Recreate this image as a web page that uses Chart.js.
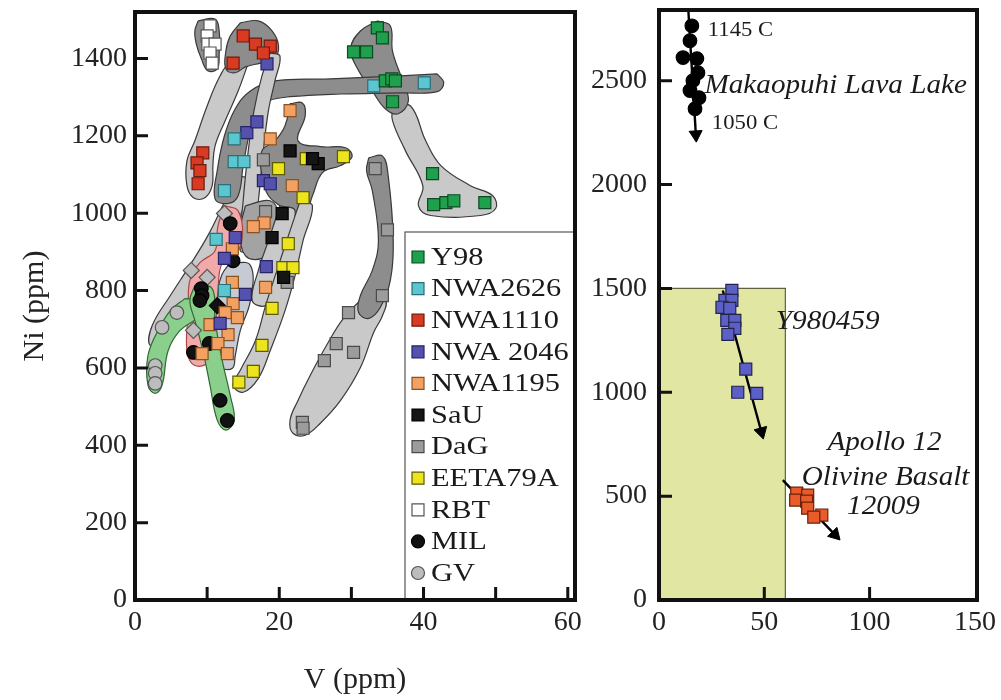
<!DOCTYPE html>
<html><head><meta charset="utf-8">
<script src="https://cdn.jsdelivr.net/npm/chart.js@4.4.1/dist/chart.umd.min.js"></script>
<style>
html,body{margin:0;padding:0;background:#fff;}
#wrap{position:relative;width:1001px;height:700px;overflow:hidden;}
#c1{position:absolute;left:0;top:0;}
#c2{position:absolute;left:590px;top:0;}
</style></head><body>
<div id="wrap"><canvas id="c1" width="590" height="700"></canvas><canvas id="c2" width="411" height="700"></canvas></div>
<script>
// ---------- LEFT PANEL DATA (V ppm, Ni ppm) ----------
const Y98 = [[33.6,1479],[34.3,1453],[30.3,1417],[32.1,1417],[34.7,1342],[35.6,1347],[36.1,1342],[35.7,1288],[41.25,1102],[41.4,1022],[43.1,1027],[44.2,1032],[48.5,1027]];
const NWA2626 = [[33.1,1329],[40.1,1337],[13.75,1192],[13.75,1133],[15.1,1133],[12.4,1058],[11.25,932],[12.4,800]];
const NWA1110 = [[15.0,1458],[16.7,1437],[18.75,1432],[17.8,1414],[13.6,1388],[9.4,1156],[8.6,1130],[9.0,1110],[8.75,1076]];
const NWA2046 = [[15.5,1208],[16.9,1236],[18.3,1386],[17.8,1084],[18.75,1076],[13.9,937],[12.4,883],[15.3,790],[18.2,862],[11.8,715]];
const NWA1195 = [[21.5,1265],[18.75,1192],[21.8,1071],[17.9,975],[16.4,965],[13.5,908],[13.5,821],[18.1,808],[13.6,766],[14.2,730],[10.4,712],[12.9,686],[12.5,743],[11.5,663],[9.3,637],[12.8,637]];
const SaU = [[21.5,1161],[25.4,1128],[24.6,1141],[20.4,999],[19.0,937],[20.6,834]];
const DaG = [[17.8,1138],[18.1,1004],[21.1,821],[33.3,1115],[35.0,957],[34.3,787],[29.6,743],[27.9,663],[30.3,640],[26.25,619],[23.2,459],[23.3,444]];
const EETA79A = [[19.9,1115],[23.75,1141],[28.9,1146],[23.3,1040],[21.25,921],[20.5,859],[21.9,859],[19.0,754],[17.6,658],[16.4,591],[14.4,563]];
const RBT = [[10.4,1484],[10.0,1458],[10.1,1437],[11.1,1437],[10.4,1414],[10.7,1388]];
const MIL = [[13.2,973],[13.6,877],[9.2,805],[9.3,787],[9.0,774],[11.4,761],[10.3,663],[8.1,640],[11.8,516],[12.8,464]];
const GV = [[12.4,999],[7.8,852],[10.0,834],[8.1,697],[3.75,705],[5.8,743],[2.8,606],[2.8,586],[2.8,560]];

// envelopes (field outlines, V/Ni coordinates)
const envRBT = [[8.75,1497],[11.1,1502],[11.67,1471],[11.67,1412],[11.4,1373],[10.1,1368],[9.2,1399],[8.5,1437],[8.3,1471]];
const envTubeA = [[15.7,1388],[14.3,1316],[12.5,1239],[11.1,1174],[10.8,1123],[10.7,1071],[9.7,1040],[8.1,1040],[7.2,1071],[7.2,1135],[8.3,1187],[10.0,1277],[11.8,1355],[13.2,1388]];
const envNWA1110 = [[14.6,1492],[17.1,1497],[19.0,1471],[19.9,1432],[19.3,1399],[17.4,1388],[15.3,1378],[13.9,1363],[12.6,1373],[12.6,1419],[13.2,1458]];
const envTubeB = [[18.75,1414],[20.1,1406],[19.4,1342],[18.5,1265],[17.8,1161],[17.1,1032],[16.25,916],[14.6,903],[15.0,1032],[15.7,1161],[16.5,1265],[17.6,1355]];
const envBand = [[41.9,1360],[42.8,1337],[41.9,1314],[36.8,1311],[28.5,1308],[21.5,1301],[18.5,1290],[16.9,1265],[15.8,1200],[15.0,1123],[14.3,1045],[12.9,1025],[11.1,1037],[11.4,1110],[12.4,1200],[13.9,1270],[16.0,1316],[19.4,1342],[27.1,1347],[36.8,1355]];
const envY98Low = [[35.7,1277],[38.2,1277],[40.3,1187],[42.4,1123],[46.5,1071],[49.6,1045],[50.0,1012],[47.9,994],[41.0,994],[39.3,1019],[39.9,1071],[37.5,1161],[35.7,1239]];
const envY98Top = [[33.6,1497],[35.4,1484],[35.7,1419],[37.1,1342],[37.9,1290],[36.5,1257],[34.7,1270],[32.9,1316],[30.8,1375],[29.9,1427],[31.25,1471]];
const envBlob = [[21.5,1283],[23.2,1285],[23.6,1252],[22.6,1187],[25.7,1172],[29.2,1169],[30.1,1146],[28.5,1123],[26.0,1105],[24.6,1045],[23.6,1001],[21.5,994],[20.1,1019],[18.5,1045],[17.6,1097],[17.6,1161],[19.4,1187],[20.8,1226]];
const envMid = [[15.3,1019],[18.75,1032],[19.9,994],[19.4,916],[17.6,883],[15.3,890],[14.6,955]];
const envTubeC = [[20.1,1019],[22.2,1006],[20.8,903],[19.4,800],[18.1,761],[16.25,774],[17.1,852],[18.5,929]];
const envEETA = [[22.9,1032],[24.6,1019],[23.3,929],[22.2,839],[20.8,748],[18.75,645],[17.1,573],[15.0,537],[13.6,555],[14.6,594],[16.7,671],[18.1,761],[19.9,865],[21.5,955]];
const envGV = [[14.3,1097],[16.0,1084],[14.6,994],[11.8,903],[9.0,813],[6.25,735],[4.2,671],[2.1,658],[2.4,710],[4.9,787],[7.6,865],[10.1,942],[12.5,1032]];
const envDaGLow = [[31.9,787],[34.7,774],[34.3,735],[33.1,692],[31.25,601],[28.5,516],[25.7,457],[23.6,426],[21.9,431],[21.5,465],[22.6,516],[24.3,581],[26.7,663],[28.9,728]];
const envDaGTop = [[32.4,1143],[34.3,1148],[35.1,1097],[35.8,929],[35.4,826],[34.0,756],[32.4,728],[31.0,743],[31.25,787],[32.9,852],[33.75,929],[32.9,1058],[32.1,1110]];
const envNWA1195 = [[13.2,872],[16.0,865],[16.0,774],[14.6,697],[13.9,632],[13.5,599],[11.8,599],[10.1,619],[9.7,697],[11.1,774],[12.0,839]];
const envPink = [[12.5,1019],[14.3,1006],[14.9,942],[13.9,890],[12.1,872],[11.5,800],[11.1,697],[10.4,619],[8.3,606],[7.2,645],[7.4,748],[7.6,826],[9.0,872],[11.1,903],[11.5,968]];
const envGreenGV = [[6.9,779],[9.7,774],[9.0,735],[6.25,697],[4.6,645],[3.75,555],[2.8,534],[1.8,555],[1.8,632],[3.2,697],[4.9,748]];
const envGreenMIL = [[8.3,813],[10.7,805],[11.1,723],[12.1,619],[13.2,529],[13.75,465],[12.6,439],[11.4,465],[10.4,555],[9.4,645],[8.3,723],[7.6,774]];

// ---------- RIGHT PANEL DATA ----------
const MAKAOPUHI = [[15.6,2764],[14.7,2692],[11.4,2611],[18.0,2606],[18.5,2538],[16.1,2500],[14.7,2452],[19.0,2418],[17.1,2365]];
const Y980459 = [[34.6,1490],[31.3,1442],[34.6,1442],[29.9,1409],[33.6,1404],[32.2,1346],[36.0,1346],[36.0,1308],[32.7,1279],[41.2,1111],[37.4,1000],[46.4,995]];
const APOLLO12009 = [[65.4,514],[70.6,505],[64.9,481],[70.1,476],[70.6,442],[77.3,409],[73.5,399]];
const makTrend = [[13.8,2860],[17.5,2240]];
const yTrend = [[30.3,1490],[48.6,810]];
const apTrend = [[58.8,577],[83.5,315]];
const greenBoxX = [0,60,60,0,0];
const greenBoxY = [0,0,1500,1500,0];

// tick values
const leftXTicks = [0,10,20,30,40,50,60];
const leftXLabels = [0,20,40,60];
const leftYTicks = [0,200,400,600,800,1000,1200,1400];
const rightXTicks = [0,50,100,150];
const rightYTicks = [0,500,1000,1500,2000,2500];

const F = '"Liberation Serif","Times New Roman",serif';
const P = a => a.map(p => ({x:p[0], y:p[1]}));

let ord = 1000;
function env(pts, bg, bd){
  return {type:'line', data:P(pts.concat([pts[0]])), fill:'shape', backgroundColor:bg, borderColor:bd,
    borderWidth:1.2, tension:0.4, pointRadius:0, order:ord--};
}
function pts(label, arr, style, bg, bd, r){
  return {type:'scatter', label, data:P(arr), pointStyle:style, pointRadius:r, radius:r,
    backgroundColor:bg, borderColor:bd, borderWidth:1.2, pointBackgroundColor:bg, pointBorderColor:bd, pointBorderWidth:1.2, order:0};
}

const DK = '#8d8d8d', LT = '#c9c9c9', OL = '#3a3a3a';
const envDatasets = [
  env(envGV, LT, OL),
  env(envTubeA, LT, OL),
  env(envY98Low, LT, OL),
  env(envY98Top, DK, OL),
  env(envRBT, DK, OL),
  env(envNWA1110, DK, OL),
  env(envBand, DK, OL),
  env(envTubeB, LT, OL),
  env(envBlob, DK, OL),
  env(envMid, '#a3a3a3', OL),
  env(envTubeC, LT, OL),
  env(envEETA, LT, OL),
  env(envDaGLow, LT, OL),
  env(envDaGTop, DK, OL),
  env(envNWA1195, '#c6cad3', OL),
  env(envPink, '#f2a9a9', '#a84848'),
  env(envGreenGV, '#8ad08c', '#2e6a32'),
  env(envGreenMIL, '#8ad08c', '#2e6a32')
];

const series = [
  {label:'Y98', arr:Y98, style:'rect', bg:'#1fa04c', bd:'#0d4a22'},
  {label:'NWA2626', arr:NWA2626, style:'rect', bg:'#5cc6d0', bd:'#2a6e76'},
  {label:'NWA1110', arr:NWA1110, style:'rect', bg:'#d93b22', bd:'#6e1a0c'},
  {label:'NWA 2046', arr:NWA2046, style:'rect', bg:'#5552ad', bd:'#26236a'},
  {label:'NWA1195', arr:NWA1195, style:'rect', bg:'#f2a163', bd:'#8a5223'},
  {label:'SaU', arr:SaU, style:'rect', bg:'#151515', bd:'#000'},
  {label:'DaG', arr:DaG, style:'rect', bg:'#9c9c9c', bd:'#4a4a4a'},
  {label:'EETA79A', arr:EETA79A, style:'rect', bg:'#ece41c', bd:'#5e5a00'},
  {label:'RBT', arr:RBT, style:'rect', bg:'#ffffff', bd:'#555'},
  {label:'MIL', arr:MIL, style:'circle', bg:'#111', bd:'#000'},
  {label:'GV', arr:GV, style:'circle', bg:'#bdbdbd', bd:'#555'}
];
// a few MIL / GV analyses are plotted as diamonds in the original
const markerShapes = {
  MIL: ['circle','circle','circle','circle','circle','rectRot','circle','circle','circle','circle'],
  GV: ['rectRot','rectRot','rectRot','rectRot','circle','circle','circle','circle','circle']
};
const pointDatasets = series.map(s => {
  const d = pts(s.label, s.arr, markerShapes[s.label] || s.style, s.bg, s.bd, s.style==='rect'?8.5:6.8);
  if (markerShapes[s.label]) d.pointRadius = markerShapes[s.label].map(m => m === 'rectRot' ? 8 : 6.8);
  return d;
});

function framePlugin(xTickVals, yTickVals){
  return {id:'frame', afterDatasetsDraw(chart){
    const {ctx, chartArea:a, scales} = chart;
    ctx.save();
    ctx.strokeStyle = '#111'; ctx.lineWidth = 3;
    ctx.beginPath();
    yTickVals.forEach(v => { const y = scales.y.getPixelForValue(v); ctx.moveTo(a.left, y); ctx.lineTo(a.left+13, y); });
    xTickVals.forEach(v => { const x = scales.x.getPixelForValue(v); ctx.moveTo(x, a.bottom); ctx.lineTo(x, a.bottom-13); });
    ctx.stroke();
    ctx.lineWidth = 4;
    ctx.strokeRect(a.left, a.top, a.right-a.left, a.bottom-a.top);
    ctx.restore();
  }};
}

const legendPlugin = {id:'boxLegend', afterDraw(chart){
  const ctx = chart.ctx;
  const bx = 405, by = 232, bw = 170, bh = 368;
  ctx.save();
  ctx.fillStyle = '#fff'; ctx.fillRect(bx, by, bw, bh);
  ctx.strokeStyle = '#555'; ctx.lineWidth = 1.2; ctx.strokeRect(bx, by, bw, bh);
  const step = 31.6;
  series.forEach((s, i) => {
    const cy = 257 + i*step;
    ctx.fillStyle = s.bg; ctx.strokeStyle = s.bd; ctx.lineWidth = 1.2;
    ctx.beginPath();
    if (s.style === 'rect') ctx.rect(412, cy-6, 12, 12); else ctx.arc(418, cy, 6.5, 0, Math.PI*2);
    ctx.fill(); ctx.stroke();
    ctx.save();
    ctx.translate(431, cy);
    ctx.scale(1.17, 1);
    ctx.fillStyle = '#1a1a1a';
    ctx.font = '26px ' + F;
    ctx.textBaseline = 'middle';
    ctx.fillText(s.label, 0, 1);
    ctx.restore();
  });
  const a = chart.chartArea;
  ctx.strokeStyle = '#111'; ctx.lineWidth = 4;
  ctx.strokeRect(a.left, a.top, a.right-a.left, a.bottom-a.top);
  ctx.lineWidth = 3; ctx.beginPath();
  [40,50,60].forEach(v => { const x = chart.scales.x.getPixelForValue(v); ctx.moveTo(x, a.bottom); ctx.lineTo(x, a.bottom-13); });
  ctx.stroke();
  ctx.restore();
}};

const tickFont = {family:F, size:28};
function setTicks(vals){ return s => { s.ticks = vals.map(v => ({value:v})); }; }
function fitX(h){ return s => { s.height = h; s.paddingLeft = 0; s.paddingRight = 0; }; }
function fitY(w){ return s => { s.width = w; s.paddingTop = 0; s.paddingBottom = 0; }; }

new Chart(document.getElementById('c1'), {
  type:'scatter',
  data:{datasets: pointDatasets.concat(envDatasets)},
  options:{
    responsive:false, animation:false, events:[],
    layout:{padding:{top:12, right:15, left:0, bottom:0}},
    plugins:{legend:{display:false}, tooltip:{enabled:false}},
    scales:{
      x:{type:'linear', min:0, max:61, afterFit:fitX(100), afterBuildTicks:setTicks(leftXTicks),
        grid:{display:false, drawTicks:false}, border:{display:false},
        ticks:{padding:6, color:'#222', font:tickFont, maxRotation:0, autoSkip:false,
          callback:v => (leftXLabels.includes(v) ? String(v) : '')},
        title:{display:true, text:'V (ppm)', color:'#222', font:{family:F, size:30}, padding:{top:0, bottom:2}}},
      y:{type:'linear', min:0, max:1520, afterFit:fitY(135), afterBuildTicks:setTicks(leftYTicks),
        grid:{display:false, drawTicks:false}, border:{display:false},
        ticks:{padding:8, color:'#222', font:tickFont, callback:v => String(v)},
        title:{display:true, text:'Ni (ppm)', color:'#222', font:{family:F, size:30}, padding:{top:17, bottom:0}}}
    }
  },
  plugins:[framePlugin([10,20,30,40,50,60], [200,400,600,800,1000,1200,1400]), legendPlugin]
});

// ---------- RIGHT PANEL ----------
function arrowRotation(c){
  const ch = c.chart, d = c.dataset.data;
  if (!ch.scales || !ch.scales.x) return 0;
  const x0 = ch.scales.x.getPixelForValue(d[0].x), y0 = ch.scales.y.getPixelForValue(d[0].y);
  const x1 = ch.scales.x.getPixelForValue(d[1].x), y1 = ch.scales.y.getPixelForValue(d[1].y);
  return Math.atan2(x1-x0, -(y1-y0)) * 180 / Math.PI;
}
function arrow(arr){
  return {type:'line', data:P(arr), borderColor:'#000', borderWidth:2.4, tension:0, fill:false,
    pointRadius:[0,7.5], pointStyle:'triangle', pointBackgroundColor:'#000', pointBorderColor:'#000',
    pointBorderWidth:1, pointRotation:arrowRotation, order:5};
}

const annotations = [
  {text:'1145 C', x:23.2, y:2740, italic:false, size:21, align:'left'},
  {text:'Makaopuhi Lava Lake', x:21.6, y:2476, italic:true, size:27, align:'left'},
  {text:'1050 C', x:25.1, y:2293, italic:false, size:21, align:'left'},
  {text:'Y980459', x:80.1, y:1341, italic:true, size:27, align:'center'},
  {text:'Apollo 12', x:107.1, y:755, italic:true, size:27, align:'center'},
  {text:'Olivine Basalt', x:107.6, y:590, italic:true, size:27, align:'center'},
  {text:'12009', x:106.6, y:450, italic:true, size:27, align:'center'}
];
const annotPlugin = {id:'annot', afterDraw(chart){
  const ctx = chart.ctx, sx = chart.scales.x, sy = chart.scales.y;
  ctx.save();
  ctx.fillStyle = '#1a1a1a'; ctx.textBaseline = 'middle';
  annotations.forEach(a => {
    const px = sx.getPixelForValue(a.x), py = sy.getPixelForValue(a.y);
    ctx.font = (a.italic ? 'italic ' : '') + a.size + 'px ' + F;
    const w = ctx.measureText(a.text).width * 1.08;
    ctx.save();
    ctx.translate(a.align === 'center' ? px - w/2 : px, py);
    ctx.scale(1.08, 1);
    ctx.textAlign = 'left';
    ctx.fillText(a.text, 0, 0);
    ctx.restore();
  });
  ctx.restore();
}};

new Chart(document.getElementById('c2'), {
  type:'scatter',
  data:{datasets:[
    pts('Makaopuhi', MAKAOPUHI, 'circle', '#000', '#000', 6.8),
    pts('Y980459', Y980459, 'rect', '#5b5fc6', '#22244e', 8.5),
    pts('Apollo 12009', APOLLO12009, 'rect', '#ea5b2a', '#6a200c', 8.5),
    arrow(makTrend), arrow(yTrend), arrow(apTrend),
    {type:'line', data:greenBoxX.map((x,i)=>({x, y:greenBoxY[i]})), fill:'shape', backgroundColor:'#e1e6a3',
      borderColor:'#5e6040', borderWidth:1.2, tension:0, pointRadius:0, order:20}
  ]},
  options:{
    responsive:false, animation:false, events:[],
    layout:{padding:{top:10, right:24, left:0, bottom:0}},
    plugins:{legend:{display:false}, tooltip:{enabled:false}},
    scales:{
      x:{type:'linear', min:0, max:151, afterFit:fitX(100), afterBuildTicks:setTicks(rightXTicks),
        grid:{display:false, drawTicks:false}, border:{display:false},
        ticks:{padding:6, color:'#222', font:tickFont, maxRotation:0, autoSkip:false, callback:v => String(v)}},
      y:{type:'linear', min:0, max:2840, afterFit:fitY(69), afterBuildTicks:setTicks(rightYTicks),
        grid:{display:false, drawTicks:false}, border:{display:false},
        ticks:{padding:12, color:'#222', font:tickFont, callback:v => String(v)}}
    }
  },
  plugins:[framePlugin([50,100], [500,1000,1500,2000,2500]), annotPlugin]
});
</script>
</body></html>
